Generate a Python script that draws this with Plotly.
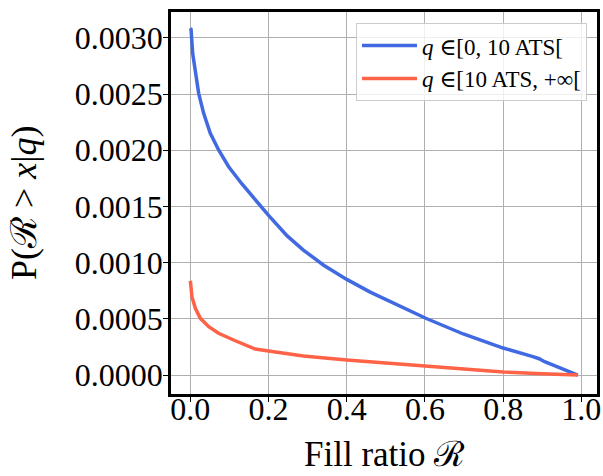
import plotly.graph_objects as go

# Blue series: q in [0, 10 ATS[
blue_x = [0.0, 0.0018, 0.0059, 0.0128, 0.0213, 0.034, 0.051, 0.0723, 0.098, 0.132, 0.166,
          0.2, 0.247, 0.289, 0.34, 0.4, 0.46, 0.536, 0.602, 0.698, 0.8, 0.876, 0.892,
          0.906, 0.95, 0.991]
blue_y = [0.003087, 0.003076, 0.002862, 0.002684, 0.002506, 0.002328, 0.00215, 0.002002,
          0.001853, 0.0017, 0.00156, 0.00142, 0.00124, 0.001112, 0.000979, 0.000851,
          0.000738, 0.000612, 0.000505, 0.000365, 0.00024, 0.000163, 0.000145,
          0.000118, 0.00006, 0.0]

# Red series: q in [10 ATS, +inf[
red_x = [0.0, 0.004, 0.0128, 0.0255, 0.047, 0.072, 0.115, 0.166, 0.2, 0.289, 0.4, 0.511,
         0.6, 0.7, 0.8, 0.9, 0.991]
red_y = [0.000839, 0.000697, 0.000593, 0.000504, 0.00043, 0.000371, 0.000305, 0.000231,
         0.000214, 0.000169, 0.000133, 0.000104, 0.00008, 0.000052, 0.000027, 0.000012, 0.0]

x_ticks = [0.0, 0.2, 0.4, 0.6, 0.8, 1.0]
y_ticks = [0.0, 0.0005, 0.0010, 0.0015, 0.0020, 0.0025, 0.0030]

x_title = "Fill ratio ℛ"
y_title = "P(ℛ > <i>x</i>|<i>q</i>)"

FONT = "Liberation Serif, DejaVu Serif, serif"

fig = go.Figure()
fig.add_trace(go.Scatter(x=blue_x, y=blue_y, mode="lines",
                         line=dict(color="#4169E1", width=3.5),
                         name="<i>q</i> ∈[0, 10 ATS["))
fig.add_trace(go.Scatter(x=red_x, y=red_y, mode="lines",
                         line=dict(color="#FF6347", width=3.5),
                         name="<i>q</i> ∈[10 ATS, +∞["))

axis_common = dict(showline=True, linecolor="black", linewidth=2.5, mirror=True,
                   showgrid=True, gridcolor="#b0b0b0", gridwidth=1,
                   ticks="outside", ticklen=5, tickwidth=1, tickcolor="black",
                   zeroline=False, automargin=False,
                   tickfont=dict(family=FONT, size=32, color="black"))

fig.update_xaxes(range=[-0.0495, 1.04], tickvals=x_ticks,
                 ticktext=[f"{v:.1f}" for v in x_ticks], ticklabelstandoff=-20,
                 **axis_common)
fig.update_yaxes(range=[-0.000169, 0.00323], tickvals=y_ticks,
                 ticktext=[f"{v:.4f}" for v in y_ticks], ticklabelstandoff=-6,
                 **axis_common)

fig.add_annotation(text=x_title, xref="paper", yref="paper", x=0.5, y=-0.158,
                   xanchor="center", yanchor="middle", showarrow=False,
                   font=dict(family=FONT, size=35, color="black"))
fig.add_annotation(text=y_title, xref="paper", yref="paper", x=-0.345, y=0.5,
                   xanchor="center", yanchor="middle", showarrow=False, textangle=-90,
                   font=dict(family=FONT, size=36, color="black"))

fig.update_layout(width=603, height=476,
                  margin=dict(l=171, r=6, t=12, b=82),
                  paper_bgcolor="white", plot_bgcolor="white",
                  showlegend=True,
                  legend=dict(x=0.9765, y=0.971, xanchor="right", yanchor="top",
                              bgcolor="rgba(255,255,255,0.8)", bordercolor="#cccccc", borderwidth=1,
                              font=dict(family=FONT, size=23, color="black"),
                              itemwidth=55, tracegroupgap=4))

fig.write_html("out.html")
